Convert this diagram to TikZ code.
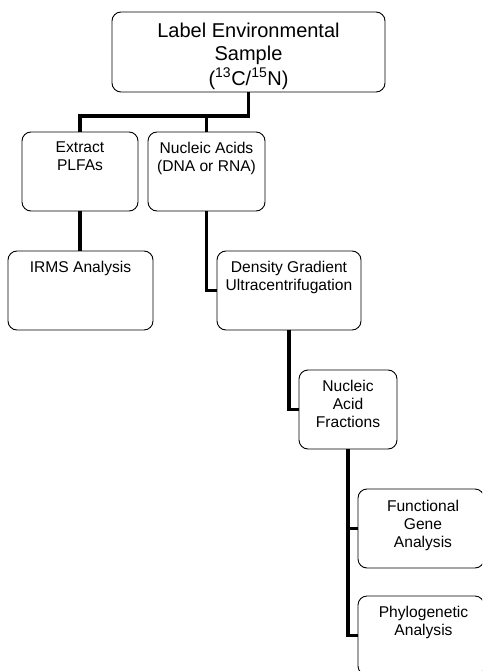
\documentclass[tikz,border=0pt]{standalone}
\usepackage{fontspec}
\setmainfont{Liberation Sans}
\begin{document}
\begin{tikzpicture}[x=1pt,y=-1pt,
  box/.style={draw,rounded corners=9pt,line width=0.9pt,inner sep=0pt,fill=white},
  conn/.style={line width=3.2pt},
  txt/.style={anchor=north,align=center,inner sep=0pt,font=\fontsize{15.6}{18}\selectfont},
  bigtxt/.style={anchor=north,align=center,inner sep=0pt,font=\fontsize{20}{22.7}\selectfont}]
\path[use as bounding box,clip] (0,0) rectangle (482,671);
\fill[white] (0,0) rectangle (482,671);
% boxes
\node[box,minimum width=273pt,minimum height=80pt] (nTop) at (248.5,52) {};
\node[box,minimum width=116pt,minimum height=79pt] (nExt) at (80,171.5) {};
\node[box,minimum width=117pt,minimum height=79pt] (nNuc) at (206.5,171.5) {};
\node[box,minimum width=145pt,minimum height=79pt] (nIrms) at (80.5,290.5) {};
\node[box,minimum width=144pt,minimum height=79pt] (nDen) at (289,290.5) {};
\node[box,minimum width=98pt,minimum height=79pt] (nNaf) at (348,409.5) {};
\node[box,minimum width=126pt,minimum height=79pt] (nFun) at (421,528.5) {};
\node[box,minimum width=126pt,minimum height=79pt] (nPhy) at (421,635.5) {};
% texts
\node[bigtxt] (tTop) at (248.5,22.7) {Label Environmental\\Sample\\[2.3pt](\textsuperscript{13}C/\textsuperscript{15}N)};
\node[txt] (tExt) at (80,142) {Extract\\PLFAs};
\node[txt] (tNuc) at (206.5,142) {Nucleic Acids\\(DNA or RNA)};
\node[txt] (tIrms) at (80.5,261) {IRMS Analysis};
\node[txt] (tDen) at (289,261) {Density Gradient\\Ultracentrifugation};
\node[txt] (tNaf) at (348,379.7) {Nucleic\\Acid\\Fractions};
\node[txt] (tFun) at (423,499.7) {Functional\\Gene\\Analysis};
\node[txt] (tPhy) at (423.5,606.4) {Phylogenetic\\Analysis};
% connectors
\coordinate (jTop) at (0,116);
\draw[conn] (nTop.south) -- (nTop.south |- jTop) -| (nExt.north);
\draw[conn] (nNuc.north) -- (nNuc.north |- jTop);
\draw[conn] (nExt.south) -- (nIrms.north -| nExt.south);
\draw[conn] (nNuc.south) |- (nDen.west);
\draw[conn] (nDen.south) |- (nNaf.west);
\draw[conn] (nNaf.south) |- (nFun.west);
\draw[conn] (nNaf.south) |- (nPhy.west);
\end{tikzpicture}
\end{document}
